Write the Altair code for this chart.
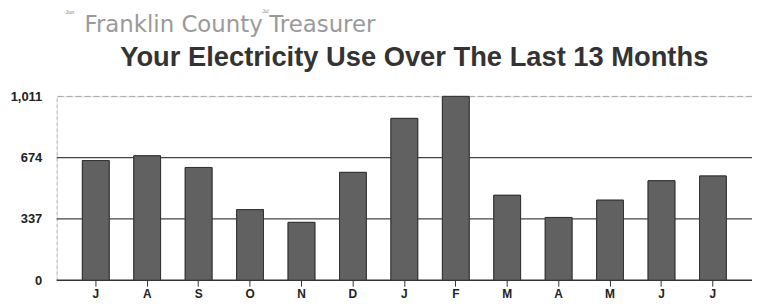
import altair as alt
import pandas as pd

months = ["Jul", "Aug", "Sep", "Oct", "Nov", "Dec", "Jan", "Feb", "Mar", "Apr", "May", "Jun", "Jul "]
usage = [658, 684, 620, 388, 318, 593, 890, 1011, 467, 345, 440, 547, 573]
tick_values = [0, 337, 674, 1011]
solid_grid = [337, 674]
dashed_grid = [1011]

df = pd.DataFrame({"month": months, "kwh": usage})

FONT = "Liberation Sans Narrow, Liberation Sans, Arial, sans-serif"

xenc = alt.X(
    "month:O", sort=months,
    scale=alt.Scale(paddingInner=0.48, paddingOuter=0.5),
    axis=alt.Axis(title=None, labelAngle=0, labelExpr="substring(datum.value,0,1)",
                  labelFont=FONT, labelFontWeight="bold", labelFontSize=12,
                  labelColor="#222", tickColor="#333", tickSize=6, tickWidth=1,
                  labelPadding=2, domain=False),
)
yscale = alt.Scale(domain=[0, 1011], nice=False)

bars = alt.Chart(df).mark_bar(color="#616161", stroke="#333", strokeWidth=1).encode(
    x=xenc,
    y=alt.Y("kwh:Q", scale=yscale,
            axis=alt.Axis(title=None, values=tick_values, format=",d", grid=False,
                          labelFont=FONT, labelFontWeight="bold", labelFontSize=13,
                          labelColor="#222", ticks=False, labelPadding=15,
                          domain=True, domainColor="#bbb", domainDash=[3, 3])),
)

grid_solid = alt.Chart(pd.DataFrame({"v": solid_grid})).mark_rule(color="#444", strokeWidth=1.2).encode(
    y=alt.Y("v:Q", scale=yscale)
)
grid_dashed = alt.Chart(pd.DataFrame({"v": dashed_grid})).mark_rule(color="#aaa", strokeWidth=1, strokeDash=[6, 3]).encode(
    y=alt.Y("v:Q", scale=yscale)
)
baseline = alt.Chart(pd.DataFrame({"v": [0]})).mark_rule(color="#333", strokeWidth=1.5).encode(
    y=alt.Y("v:Q", scale=yscale)
)

title1a = alt.Chart(pd.DataFrame({"t": ["Franklin County"]})).mark_text(
    align="left", baseline="alphabetic", font="DejaVu Sans, sans-serif",
    fontSize=23, color="#9a9a9a"
).encode(x=alt.value(28), y=alt.value(-65), text="t:N")

title1b = alt.Chart(pd.DataFrame({"t": ["Treasurer"]})).mark_text(
    align="left", baseline="alphabetic", font="DejaVu Sans, sans-serif",
    fontSize=23, color="#9a9a9a"
).encode(x=alt.value(214), y=alt.value(-65), text="t:N")

title2 = alt.Chart(pd.DataFrame({"t": ["Your Electricity Use Over The Last 13 Months"]})).mark_text(
    align="left", baseline="alphabetic", font="Liberation Sans, Arial, sans-serif",
    fontSize=27.5, fontWeight="bold", color="#333"
).encode(x=alt.value(64), y=alt.value(-31), text="t:N")

small1 = alt.Chart(pd.DataFrame({"t": ["Jun"]})).mark_text(
    align="left", baseline="top", font="Liberation Sans, Arial, sans-serif",
    fontSize=5.5, color="#888"
).encode(x=alt.value(9), y=alt.value(-87), text="t:N")

small2 = alt.Chart(pd.DataFrame({"t": ["Jul"]})).mark_text(
    align="left", baseline="top", font="Liberation Sans, Arial, sans-serif",
    fontSize=5, color="#888"
).encode(x=alt.value(207), y=alt.value(-88), text="t:N")

chart = alt.layer(bars, grid_dashed, grid_solid, baseline, bars, title1a, title1b, title2, small1, small2).properties(
    width=700, height=185,
    autosize=alt.AutoSizeParams(type="none"),
    padding={"left": 49, "top": 88, "right": 0, "bottom": 25},
).configure_view(stroke=None).configure(background="white")

chart.save("out.html", embed_options={"renderer": "svg", "actions": False})
